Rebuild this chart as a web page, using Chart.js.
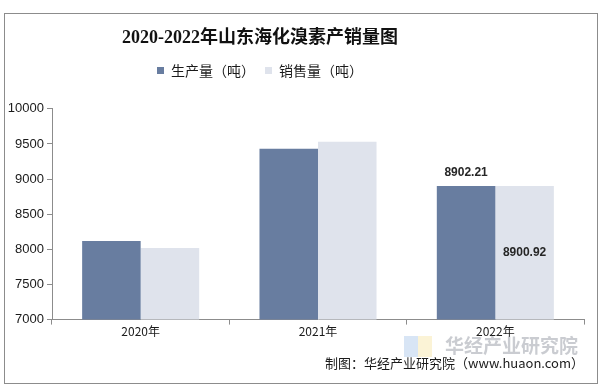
<!DOCTYPE html>
<html>
<head>
<meta charset="utf-8">
<script src="https://cdn.jsdelivr.net/npm/chart.js@4.4.0/dist/chart.umd.min.js"></script>
<style>
  html, body { margin: 0; padding: 0; background: #fff; }
  #wrap { position: relative; width: 603px; height: 391px; }
  #frame {
    position: absolute; left: 4px; top: 13px; width: 592px; height: 369px;
    border: 1px solid #8c8c8c; pointer-events: none;
  }
</style>
</head>
<body>
<div id="wrap">
  <canvas id="c" width="603" height="391"></canvas>
  <div id="frame"></div>
</div>
<script>
  // ===== Datos =====
  const years = ["2020年", "2021年", "2022年"];
  const produccion = [8120, 9430, 8902.21];
  const ventas = [8020, 9530, 8900.92];
  const seriesNames = ["生产量（吨）", "销售量（吨）"];
  const yTicks = [7000, 7500, 8000, 8500, 9000, 9500, 10000];

  const COLOR_PROD = "#687da0";
  const COLOR_VENTA = "#dfe3ec";
  const FONT_CJK = "'Noto Sans CJK SC', 'Liberation Sans', sans-serif";

  // etiquetas de valor solo para 2022
  const etiquetas = {
    id: "etiquetas",
    afterDatasetsDraw(chart) {
      const ctx = chart.ctx;
      const last = years.length - 1;
      const m0 = chart.getDatasetMeta(0).data[last];
      const m1 = chart.getDatasetMeta(1).data[last];
      const bottom = chart.chartArea.bottom;
      ctx.save();
      ctx.font = "bold 12px 'Liberation Sans', Arial, sans-serif";
      ctx.fillStyle = "#262626";
      ctx.textAlign = "center";
      ctx.textBaseline = "middle";
      ctx.fillText(produccion[last].toFixed(2), m0.x, m0.y - 13);
      ctx.fillText(ventas[last].toFixed(2), m1.x, (m1.y + bottom) / 2);
      ctx.restore();
    },
  };

  // título y leyenda quedan algo a la izquierda del centro en el original
  const desplazar = {
    id: "desplazar",
    afterLayout(chart) {
      const dx = -35;
      [chart.titleBlock, chart.legend].forEach((b) => {
        if (!b) return;
        b.left += dx;
        b.right += dx;
      });
    },
  };

  // pie de fuente + marca de agua
  const pie = {
    id: "pie",
    afterDraw(chart) {
      const ctx = chart.ctx;
      ctx.save();
      ctx.globalAlpha = 0.35;
      ctx.fillStyle = "#8fb4e3";
      ctx.fillRect(404, 336, 14, 21);
      ctx.fillStyle = "#f3dc8a";
      ctx.fillRect(418, 336, 14, 21);
      ctx.globalAlpha = 0.45;
      ctx.fillStyle = "#8a8f99";
      ctx.font = "bold 19px " + FONT_CJK;
      ctx.textAlign = "left";
      ctx.textBaseline = "middle";
      ctx.fillText("华经产业研究院", 445, 346);
      ctx.restore();

      ctx.save();
      ctx.fillStyle = "#1a1a1a";
      ctx.font = "13px " + FONT_CJK;
      ctx.textAlign = "right";
      ctx.textBaseline = "middle";
      ctx.fillText("制图：华经产业研究院（www.huaon.com）", 584, 363);
      ctx.restore();
    },
  };

  new Chart(document.getElementById("c").getContext("2d"), {
    type: "bar",
    data: {
      labels: years,
      datasets: [
        { label: seriesNames[0], data: produccion, backgroundColor: COLOR_PROD },
        { label: seriesNames[1], data: ventas, backgroundColor: COLOR_VENTA },
      ],
    },
    options: {
      responsive: false,
      animation: false,
      devicePixelRatio: 1,
      layout: { padding: { top: 14, right: 19, bottom: 52, left: 6 } },
      datasets: { bar: { categoryPercentage: 0.66, barPercentage: 1.0 } },
      scales: {
        x: {
          offset: true,
          grid: { drawOnChartArea: false, tickLength: 5, color: "#8c8c8c" },
          border: { color: "#8c8c8c" },
          ticks: { color: "#1a1a1a", font: { size: 12, family: FONT_CJK }, padding: 0 },
        },
        y: {
          min: 7000,
          max: 10000,
          afterBuildTicks: (axis) => {
            axis.ticks = yTicks.map((v) => ({ value: v }));
          },
          grid: { drawOnChartArea: false, tickLength: 5, color: "#8c8c8c" },
          border: { color: "#8c8c8c" },
          ticks: {
            color: "#1a1a1a",
            font: { size: 13, family: "'Liberation Sans', Arial, sans-serif" },
            padding: 3,
            callback: (v) => String(v),
          },
          afterFit: (axis) => { axis.width = 46; },
        },
      },
      plugins: {
        title: {
          display: true,
          text: "2020-2022年山东海化溴素产销量图",
          color: "#111",
          font: { size: 18, weight: "bold", family: "'Liberation Serif', 'Noto Sans CJK SC', serif" },
          padding: { top: 14, bottom: 4 },
        },
        legend: {
          display: true,
          labels: {
            boxWidth: 7,
            boxHeight: 7,
            color: "#1a1a1a",
            font: { size: 14, family: FONT_CJK },
            padding: 10,
          },
        },
        // espaciador entre leyenda y área de gráfico
        subtitle: {
          display: true,
          text: " ",
          weight: 500,
          font: { size: 1 },
          padding: { top: 0, bottom: 20 },
        },
        tooltip: { enabled: false },
      },
    },
    plugins: [desplazar, etiquetas, pie],
  });
</script>
</body>
</html>
